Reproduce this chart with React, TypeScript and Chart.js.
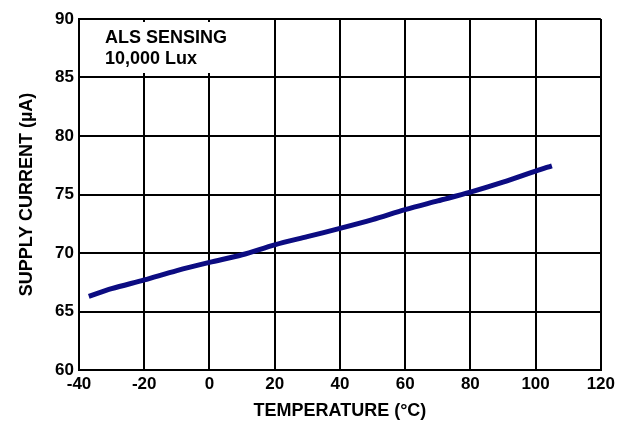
import React, { useEffect, useRef } from "react";
import { Chart, registerables } from "chart.js";

Chart.register(...registerables);

const temperatures = [-37, -30, -20, -10, 0, 10, 20, 30, 40, 50, 60, 70, 80, 90, 100, 105];
const supplyCurrent = [66.3, 66.95, 67.7, 68.5, 69.2, 69.85, 70.7, 71.4, 72.1, 72.85, 73.7, 74.45, 75.2, 76.05, 77.0, 77.45];
const annotationLines = ["ALS SENSING", "10,000 Lux"];
const xTitle = "TEMPERATURE (°C)";
const yTitle = "SUPPLY CURRENT (µA)";

const FONT = '"Liberation Sans", Arial, sans-serif';

const annotationPlugin = {
  id: "annotationBox",
  beforeDatasetsDraw(chart: any) {
    const { ctx, chartArea } = chart;
    ctx.save();
    ctx.fillStyle = "#ffffff";
    ctx.fillRect(chartArea.left + 1.5, chartArea.top + 3, 170, 51);
    ctx.fillStyle = "#000000";
    ctx.font = `bold 18px ${FONT}`;
    ctx.textBaseline = "alphabetic";
    ctx.textAlign = "left";
    annotationLines.forEach((line, i) => {
      ctx.fillText(line, chartArea.left + 26, chartArea.top + 24 + i * 20.5);
    });
    ctx.restore();
  },
};

export default function App() {
  const canvasRef = useRef<HTMLCanvasElement | null>(null);

  useEffect(() => {
    document.body.style.margin = "0";
    const canvas = canvasRef.current;
    if (!canvas) return;
    const chart = new Chart(canvas, {
      type: "line",
      data: {
        datasets: [
          {
            data: temperatures.map((t, i) => ({ x: t, y: supplyCurrent[i] })),
            borderColor: "#0c0c82",
            borderWidth: 5,
            pointRadius: 0,
            tension: 0.3,
            fill: false,
            borderCapStyle: "butt",
          },
        ],
      },
      options: {
        responsive: false,
        animation: false,
        layout: { padding: { top: 19, right: 17, left: 0, bottom: 0 } },
        plugins: { legend: { display: false }, tooltip: { enabled: false } },
        scales: {
          x: {
            type: "linear",
            min: -40,
            max: 120,
            afterFit: (scale: any) => {
              scale.height = 53;
            },
            ticks: {
              stepSize: 20,
              color: "#000",
              padding: 4,
              font: { family: FONT, size: 17, weight: "bold" },
            },
            grid: { color: "#000", lineWidth: 2, drawTicks: false },
            border: { color: "#000", width: 2 },
            title: {
              display: true,
              text: xTitle,
              color: "#000",
              font: { family: FONT, size: 18, weight: "bold" },
              padding: { top: 0, bottom: 1 },
            },
          },
          y: {
            type: "linear",
            min: 60,
            max: 90,
            afterFit: (scale: any) => {
              scale.width = 79;
            },
            ticks: {
              stepSize: 5,
              color: "#000",
              padding: 5,
              font: { family: FONT, size: 17, weight: "bold" },
            },
            grid: { color: "#000", lineWidth: 2, drawTicks: false },
            border: { color: "#000", width: 2 },
            title: {
              display: true,
              text: yTitle,
              color: "#000",
              font: { family: FONT, size: 18, weight: "bold" },
              padding: { top: 16, bottom: 0 },
            },
          },
        },
      },
      plugins: [annotationPlugin],
    });
    return () => chart.destroy();
  }, []);

  return <canvas ref={canvasRef} width={619} height={423} style={{ display: "block" }} />;
}
